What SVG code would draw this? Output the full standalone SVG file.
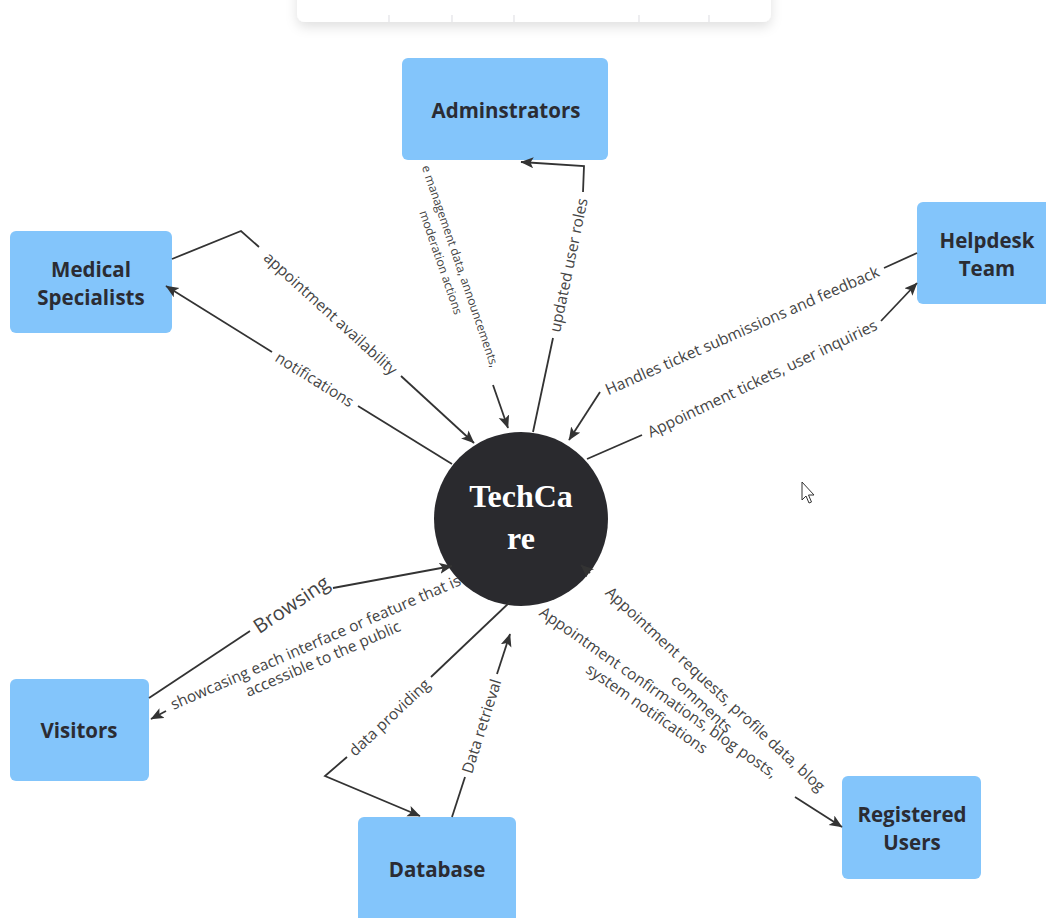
<svg xmlns="http://www.w3.org/2000/svg" width="1046" height="918" viewBox="0 0 1046 918">
<style>
.node rect{fill:#83c5fb}
.node text{font-family:"Open Sans",sans-serif;font-weight:700;font-size:20.5px;fill:#2b2c33;text-anchor:middle}
.ln{fill:none;stroke:#333;stroke-width:1.8}
.arr{marker-end:url(#ah)}
.lbl{font-family:"Open Sans",sans-serif;font-size:15.5px;fill:#444;text-anchor:middle;dominant-baseline:central}
.sm{font-size:12px}
.big{font-size:20px}
.title{font-family:"Liberation Serif",serif;font-weight:700;font-size:32px;fill:#fff;text-anchor:middle}
</style>
<defs>
<marker id="ah" markerUnits="userSpaceOnUse" markerWidth="14" markerHeight="12" refX="12.5" refY="5.5" orient="auto">
<path d="M0,0 L13,5.5 L0,11 L3,5.5 z" fill="#333"/>
</marker>
<filter id="sh" x="-10%" y="-50%" width="120%" height="250%">
<feDropShadow dx="0" dy="5" stdDeviation="6" flood-color="#000" flood-opacity="0.12"/>
</filter>
</defs>
<rect width="1046" height="918" fill="#fff"/>
<g id="toolbar">
<rect x="297" y="-30" width="474" height="52" rx="8" fill="#fff" filter="url(#sh)"/>
<g stroke="#e2e2e6" stroke-width="1.2">
<line x1="389" y1="15" x2="389" y2="22"/><line x1="452" y1="15" x2="452" y2="22"/><line x1="514" y1="15" x2="514" y2="22"/><line x1="639" y1="15" x2="639" y2="22"/><line x1="709" y1="15" x2="709" y2="22"/>
</g>
</g>
<g id="n-techcare">
<circle cx="521" cy="519" r="87" fill="#2a2a2e"/>
<text class="title" x="521" y="507">TechCa</text>
<text class="title" x="521" y="549">re</text>
</g>
<g id="n-admin" class="node"><rect x="402" y="58" width="206" height="102" rx="6"/><text x="506" y="118">Adminstrators</text></g>
<g id="n-medical" class="node"><rect x="10" y="231" width="162" height="102" rx="6"/><text x="91" y="277">Medical</text><text x="91" y="305">Specialists</text></g>
<g id="n-helpdesk" class="node"><rect x="917" y="202" width="140" height="102" rx="6"/><text x="987" y="248">Helpdesk</text><text x="987" y="276">Team</text></g>
<g id="n-visitors" class="node"><rect x="10" y="679" width="139" height="102" rx="6"/><text x="79" y="738">Visitors</text></g>
<g id="n-database" class="node"><rect x="358" y="817" width="158" height="112" rx="6"/><text x="437" y="877">Database</text></g>
<g id="n-users" class="node"><rect x="842" y="776" width="139" height="103" rx="6"/><text x="912" y="822">Registered</text><text x="912" y="850">Users</text></g>
<g id="connectors">
<path class="ln" d="M172,259 L241,231 L259,247"/>
<path class="ln arr" d="M401,376 L474,443"/>
<text class="lbl" transform="translate(331,313) rotate(42.3)">appointment availability</text>
<path class="ln" d="M452,464 L358,406"/>
<path class="ln arr" d="M272,352 L166,286"/>
<text class="lbl" transform="translate(315,379) rotate(31.9)">notifications</text>
<path class="ln arr" d="M493,385 L508,428"/>
<text class="lbl sm" transform="translate(452,266) rotate(71)"><tspan x="3" y="-8.5">e management data, announcements,</tspan><tspan x="-7" y="8.5">moderation actions</tspan></text>
<path class="ln" d="M533,432 L553,338"/>
<path class="ln arr" d="M583,192 L584,166 L521,162"/>
<text class="lbl" transform="translate(568,265) rotate(-78.2)">updated user roles</text>
<path class="ln" d="M917,253 L884,268"/>
<path class="ln arr" d="M600,392 L569,440"/>
<text class="lbl" transform="translate(742,330) rotate(-23.7)">Handles ticket submissions and feedback</text>
<path class="ln" d="M587,459 L642,435"/>
<path class="ln arr" d="M881,321 L917,283"/>
<text class="lbl" transform="translate(762,378) rotate(-25.5)">Appointment tickets, user inquiries</text>
<path class="ln" d="M149,698 L250,631"/>
<path class="ln arr" d="M333,588 L452,566"/>
<text class="lbl big" transform="translate(291,604) rotate(-33.7)">Browsing</text>
<path class="ln arr" d="M166,711 L151,719"/>
<text class="lbl" transform="translate(319,650) rotate(-23.5)"><tspan x="0" y="-9">showcasing each interface or feature that is</tspan><tspan x="0" y="9">accessible to the public</tspan></text>
<path class="ln" d="M510,602 L431,677"/>
<path class="ln arr" d="M347,757 L325,776 L420,816"/>
<text class="lbl" transform="translate(389,717) rotate(-43.2)">data providing</text>
<path class="ln" d="M452,817 L465,777"/>
<path class="ln arr" d="M497,674 L510,634"/>
<text class="lbl" transform="translate(481,726) rotate(-72.4)">Data retrieval</text>
<path class="ln arr" d="M590,573 L581,565"/>
<text class="lbl" transform="translate(709,696) rotate(42.8)"><tspan x="0" y="-10">Appointment requests, profile data, blog</tspan><tspan x="0" y="10">comments</tspan></text>
<path class="ln arr" d="M795,797 L842,827"/>
<text class="lbl" transform="translate(653,700) rotate(35)"><tspan x="0" y="-10">Appointment confirmations, blog posts,</tspan><tspan x="0" y="10">system notifications</tspan></text>
</g>
<g id="cursor">
<path d="M802,482 L802,500 L806,496 L809,503 L811.5,502 L808.5,495 L814,495 Z" fill="#fff" stroke="#333" stroke-width="1" stroke-linejoin="round"/>
</g>
</svg>
